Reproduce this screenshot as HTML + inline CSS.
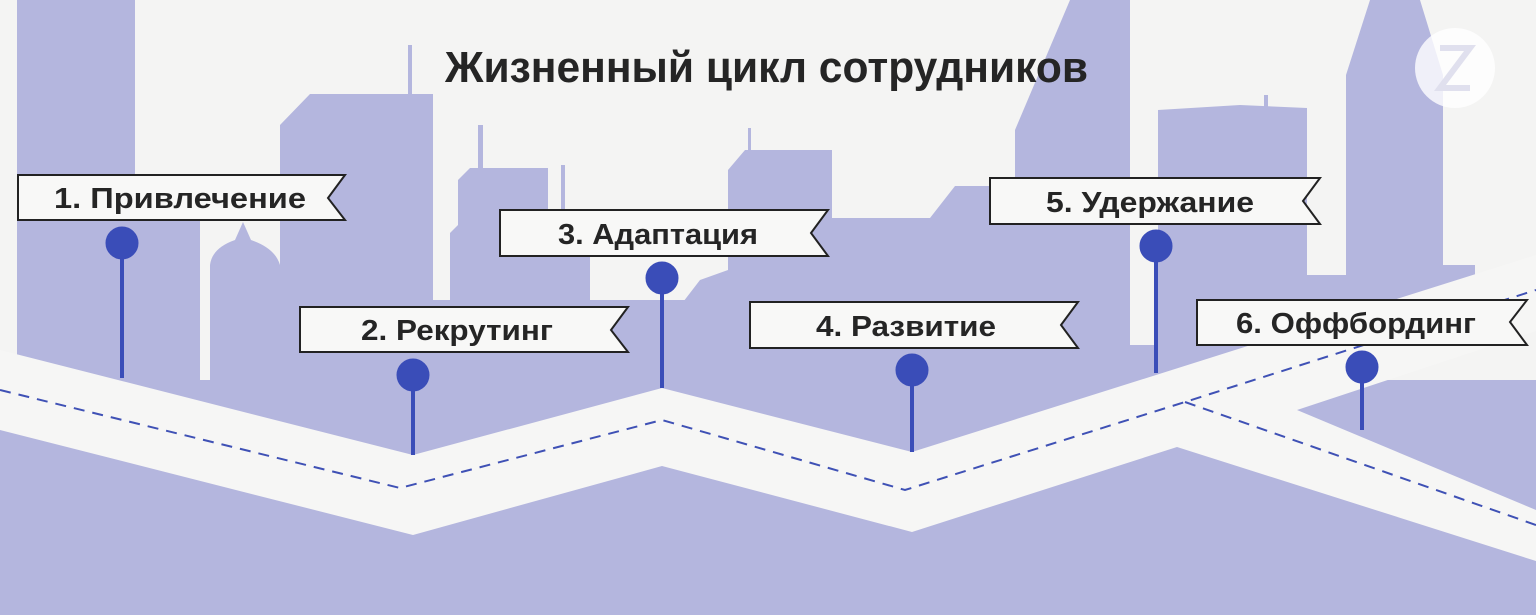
<!DOCTYPE html>
<html><head><meta charset="utf-8"><style>
html,body{margin:0;padding:0;background:#f4f4f3;}
svg{display:block}
text{font-family:"Liberation Sans","DejaVu Sans",sans-serif;font-weight:bold;fill:#252525}
</style></head><body>
<svg width="1536" height="615" viewBox="0 0 1536 615" xmlns="http://www.w3.org/2000/svg">
<rect width="1536" height="615" fill="#f4f4f3"/>
<g fill="#b4b6de">
 <rect x="17" y="0" width="118" height="420"/>
 <rect x="135" y="190" width="65" height="240"/>
 <path d="M210 420 L210 265 Q212 248 235 240 L243 222 L251 240 Q275 248 280 265 L280 420Z"/>
 <path d="M280 430 L280 125 L310 94 L433 94 L433 430Z"/>
 <rect x="408" y="45" width="4" height="55"/>
 <path d="M450 430 L450 233 L458 225 L458 180 L470 168 L548 168 L548 430Z"/>
 <rect x="478" y="125" width="5" height="50"/>
 <rect x="561" y="165" width="4" height="50"/>
 <rect x="433" y="300" width="600" height="200"/>
 <path d="M548 310 L548 255 L590 255 L590 310Z"/>
 <path d="M600 310 L680 306 L700 280 L728 270 L728 170 L745 150 L832 150 L832 218 L930 218 L955 186 L1015 186 L1015 420 L600 420Z"/>
 <rect x="748" y="128" width="3" height="25"/>
 <path d="M1015 420 L1015 130 L1070 0 L1130 0 L1130 420Z"/>
 <path d="M1130 420 L1130 345 L1158 345 L1158 420Z"/>
 <path d="M1158 420 L1158 110 L1240 105 L1307 108 L1307 400Z"/>
 <rect x="1264" y="95" width="4" height="14"/>
 <rect x="1307" y="275" width="40" height="120"/>
 <path d="M1330 400 L1330 335 L1346 325 L1346 75 L1370 0 L1420 0 L1443 75 L1443 265 L1475 265 L1475 320 L1330 400Z"/>
 <rect x="0" y="380" width="1536" height="235"/>
</g>
<path d="M0 350 L413 455 L662 388 L912 452 L1536 255 L1536 331 L1297 410 L1536 510 L1536 561 L1177 447 L912 532 L662 466 L413 535 L0 430 Z" fill="#f6f6f5"/>
<g fill="none" stroke="#3f51b5" stroke-width="2" stroke-dasharray="11 8">
 <path d="M0 390 L400 488 L662 420 L905 490 L1185 402 L1536 290"/>
 <path d="M1185 402 L1536 525"/>
</g>
<g fill="#3a4db8" stroke="#3a4db8">
 <line x1="122" y1="243" x2="122" y2="378" stroke-width="4"/><circle cx="122" cy="243" r="16"/>
 <line x1="413" y1="375" x2="413" y2="455" stroke-width="4"/><circle cx="413" cy="375" r="16"/>
 <line x1="662" y1="278" x2="662" y2="388" stroke-width="4"/><circle cx="662" cy="278" r="16"/>
 <line x1="912" y1="370" x2="912" y2="452" stroke-width="4"/><circle cx="912" cy="370" r="16"/>
 <line x1="1156" y1="246" x2="1156" y2="373" stroke-width="4"/><circle cx="1156" cy="246" r="16"/>
 <line x1="1362" y1="367" x2="1362" y2="430" stroke-width="4"/><circle cx="1362" cy="367" r="16"/>
</g>
<g fill="#f8f8f7" stroke="#222" stroke-width="2">
 <path d="M18 175 L345 175 L328 198 L345 220 L18 220Z"/>
 <path d="M300 307 L628 307 L611 330 L628 352 L300 352Z"/>
 <path d="M500 210 L828 210 L811 233 L828 256 L500 256Z"/>
 <path d="M750 302 L1078 302 L1061 325 L1078 348 L750 348Z"/>
 <path d="M990 178 L1320 178 L1303 201 L1320 224 L990 224Z"/>
 <path d="M1197 300 L1527 300 L1510 322 L1527 345 L1197 345Z"/>
</g>
<g font-size="29" text-anchor="middle">
 <text x="180" y="208" textLength="252" lengthAdjust="spacingAndGlyphs">1. Привлечение</text>
 <text x="457" y="340" textLength="192" lengthAdjust="spacingAndGlyphs">2. Рекрутинг</text>
 <text x="658" y="244" textLength="200" lengthAdjust="spacingAndGlyphs">3. Адаптация</text>
 <text x="906" y="336" textLength="180" lengthAdjust="spacingAndGlyphs">4. Развитие</text>
 <text x="1150" y="212" textLength="208" lengthAdjust="spacingAndGlyphs">5. Удержание</text>
 <text x="1356" y="333" textLength="240" lengthAdjust="spacingAndGlyphs">6. Оффбординг</text>
</g>
<text x="445" y="82" font-size="44" textLength="643" lengthAdjust="spacingAndGlyphs">Жизненный цикл сотрудников</text>
<circle cx="1455" cy="68" r="40" fill="#ffffff" opacity="0.8"/>
<path d="M1440 48 L1470 48 L1440 88 L1470 88" fill="none" stroke="#e0e0ee" stroke-width="6"/>
</svg>
</body></html>
